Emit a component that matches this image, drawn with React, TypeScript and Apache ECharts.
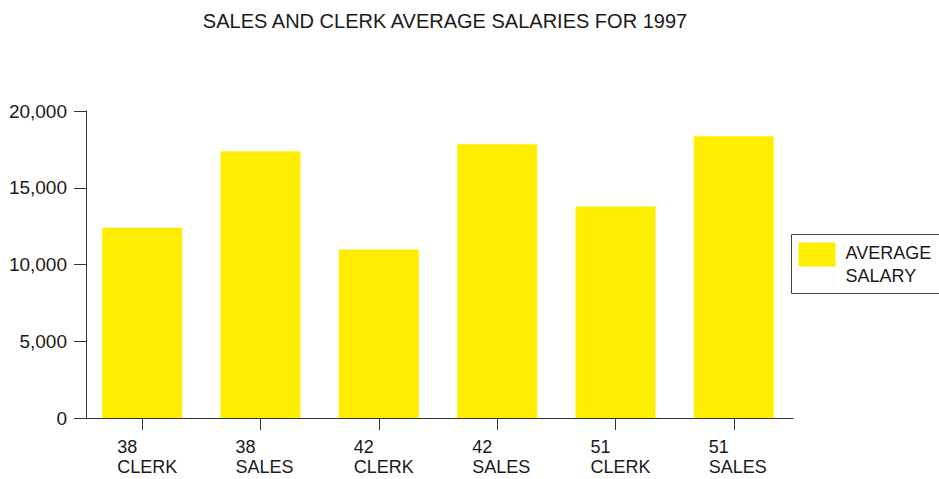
import React, { useEffect, useRef } from "react";
import * as echarts from "echarts";

const TITLE = "SALES AND CLERK AVERAGE SALARIES FOR 1997";
const SERIES_NAME = "AVERAGE\nSALARY";
const ageGroups = ["38", "38", "42", "42", "51", "51"];
const jobs = ["CLERK", "SALES", "CLERK", "SALES", "CLERK", "SALES"];
const averageSalary = [12400, 17370, 10980, 17830, 13780, 18350];
const yMin = 0;
const yMax = 20000;
const yInterval = 5000;

const FONT = "'Liberation Sans', Arial, Helvetica, sans-serif";
const YELLOW = "#FFEE00";
const INK = "#1a1a1a";
const AXIS = "#333333";

export default function App() {
  const ref = useRef<HTMLDivElement>(null);
  useEffect(() => {
    if (!ref.current) return;
    const chart = echarts.init(ref.current, undefined, { renderer: "svg" });
    const categories = ageGroups.map((a, i) => `${a}\n${jobs[i]}`);
    chart.setOption({
      animation: false,
      backgroundColor: "#ffffff",
      textStyle: { fontFamily: FONT },
      title: {
        text: TITLE,
        left: 440,
        textAlign: "center",
        top: 6,
        textStyle: { fontFamily: FONT, fontSize: 20, fontWeight: "normal", color: INK },
      },
      grid: { left: 83, right: 146, top: 111, bottom: 61 },
      xAxis: {
        type: "category",
        data: categories,
        axisLine: { show: true, lineStyle: { color: AXIS, width: 1 } },
        axisTick: { show: true, alignWithLabel: true, length: 12, lineStyle: { color: AXIS } },
        axisLabel: {
          margin: 19,
          align: "left",
          padding: [0, 0, 0, -25],
          fontFamily: FONT,
          fontSize: 18,
          lineHeight: 20,
          color: INK,
        },
      },
      yAxis: {
        type: "value",
        min: yMin,
        max: yMax,
        interval: yInterval,
        offset: -3,
        splitLine: { show: false },
        axisLine: { show: true, lineStyle: { color: AXIS, width: 1 } },
        axisTick: { show: true, length: 12, lineStyle: { color: AXIS } },
        axisLabel: {
          margin: 19,
          fontFamily: FONT,
          fontSize: 19,
          color: INK,
          formatter: (v: number) => v.toLocaleString("en-US"),
        },
      },
      series: [
        {
          name: SERIES_NAME,
          type: "bar",
          data: averageSalary,
          barWidth: 80,
          itemStyle: { color: YELLOW },
        },
      ],
      graphic: [
        {
          type: "group",
          left: 791,
          top: 234,
          children: [
            {
              type: "rect",
              shape: { x: 0, y: 0, width: 200, height: 59 },
              style: { fill: "#ffffff", stroke: "#444444", lineWidth: 1 },
            },
            {
              type: "rect",
              shape: { x: 7, y: 8, width: 37, height: 24 },
              style: { fill: YELLOW },
            },
            {
              type: "text",
              x: 54,
              y: 7,
              style: {
                text: SERIES_NAME,
                fontFamily: FONT,
                fontSize: 18,
                lineHeight: 23,
                fill: INK,
              },
            },
          ],
        },
      ],
    });
    return () => chart.dispose();
  }, []);
  return (
    <div
      ref={ref}
      style={{ position: "absolute", left: 0, top: 0, width: 939, height: 479 }}
    />
  );
}
